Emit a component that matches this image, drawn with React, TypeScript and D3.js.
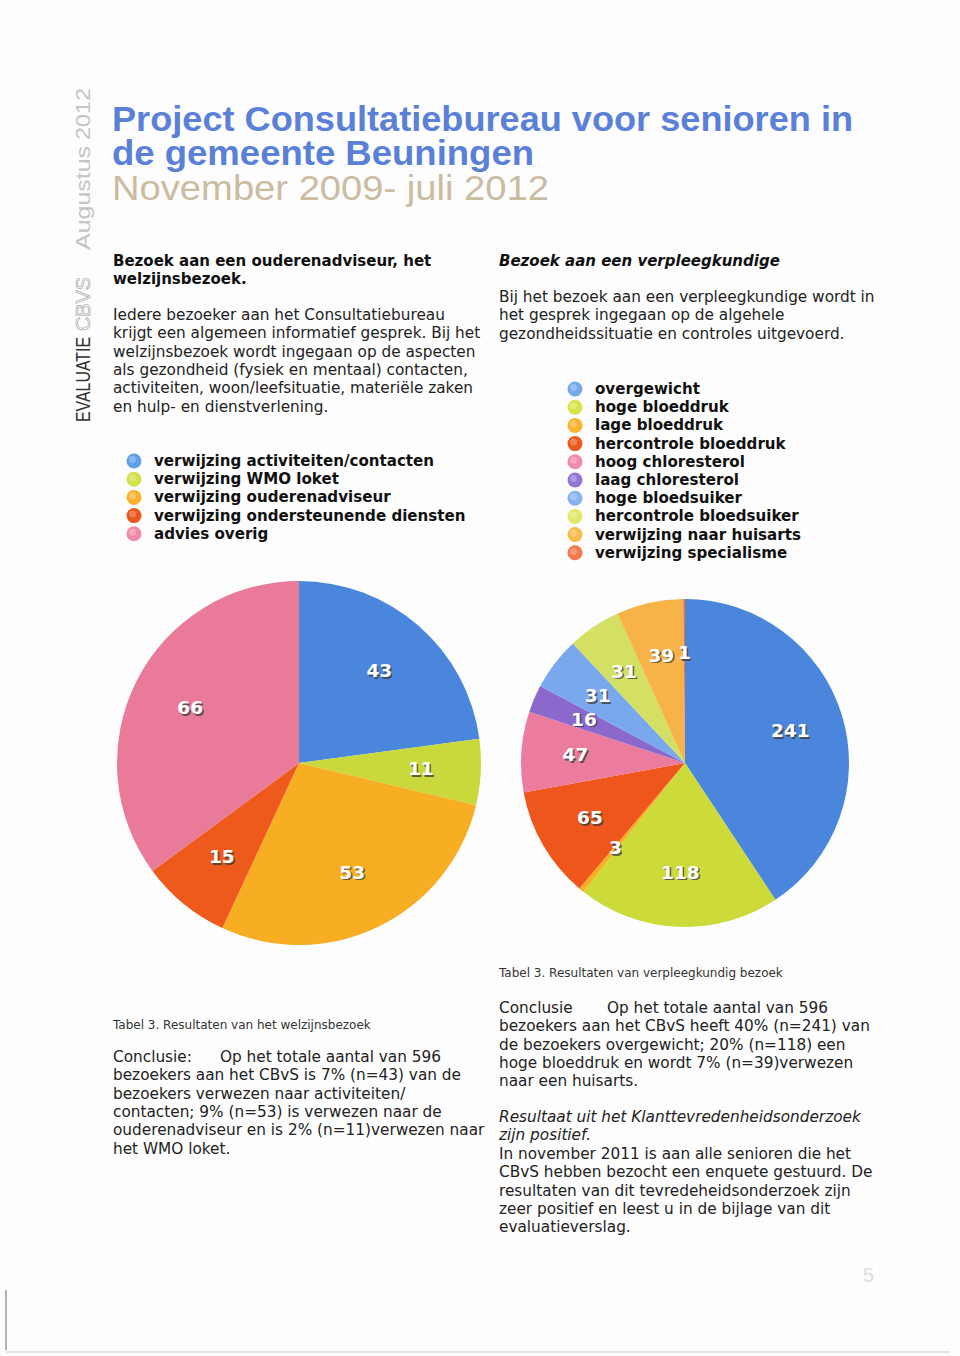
import * as d3 from "d3";

// left pie: welzijnsbezoek
const leftCategories = [
  "verwijzing activiteiten/contacten",
  "verwijzing WMO loket",
  "verwijzing ouderenadviseur",
  "verwijzing ondersteunende diensten",
  "advies overig",
];
const leftValues = [43, 11, 53, 15, 66];
const leftColors = ["#4a87dc", "#c9d93c", "#f8ae22", "#ee5a1c", "#e97a9a"];
const leftLegendColors = ["#62a0e6", "#d3e048", "#f8b22e", "#e9581e", "#ef8aa8"];

// right pie: verpleegkundig bezoek
const rightCategories = [
  "overgewicht",
  "hoge bloeddruk",
  "lage bloeddruk",
  "hercontrole bloeddruk",
  "hoog chloresterol",
  "laag chloresterol",
  "hoge bloedsuiker",
  "hercontrole bloedsuiker",
  "verwijzing naar huisarts",
  "verwijzing specialisme",
];
const rightValues = [241, 118, 3, 65, 47, 16, 31, 31, 39, 1];
const rightColors = [
  "#4a87dc", "#cddb3a", "#f8ae22", "#ef561c", "#ec7c9d",
  "#8a68cc", "#79a8ec", "#d4e063", "#f7b347", "#f0703a",
];
const rightLegendColors = [
  "#74aaea", "#d8e448", "#f8b42c", "#ea5a1f", "#f08aaa",
  "#9274d2", "#86b2f0", "#dfe86a", "#f9bb4e", "#f27a48",
];

const titleLines = ["Project Consultatiebureau voor senioren in", "de gemeente Beuningen"];
const subtitle = "November 2009- juli 2012";

const leftHeading = ["Bezoek aan een ouderenadviseur, het", "welzijnsbezoek."];
const leftIntro = [
  "Iedere bezoeker aan het Consultatiebureau",
  "krijgt een algemeen informatief gesprek. Bij het",
  "welzijnsbezoek wordt ingegaan op de aspecten",
  "als gezondheid (fysiek en mentaal) contacten,",
  "activiteiten, woon/leefsituatie, materiële zaken",
  "en hulp- en dienstverlening.",
];
const rightHeading = "Bezoek aan een verpleegkundige";
const rightIntro = [
  "Bij het bezoek aan een verpleegkundige wordt in",
  "het gesprek ingegaan op de algehele",
  "gezondheidssituatie en controles uitgevoerd.",
];
const leftCaption = "Tabel 3. Resultaten van het welzijnsbezoek";
const rightCaption = "Tabel 3. Resultaten van verpleegkundig bezoek";
const leftConclusion = [
  "bezoekers aan het CBvS is 7% (n=43) van de",
  "bezoekers verwezen naar activiteiten/",
  "contacten; 9% (n=53) is verwezen naar de",
  "ouderenadviseur en is 2% (n=11)verwezen naar",
  "het WMO loket.",
];
const rightConclusion = [
  "bezoekers aan het CBvS heeft 40% (n=241) van",
  "de bezoekers overgewicht; 20% (n=118) een",
  "hoge bloeddruk en wordt 7% (n=39)verwezen",
  "naar een huisarts.",
];
const surveyItalic = ["Resultaat uit het Klanttevredenheidsonderzoek", "zijn positief."];
const surveyText = [
  "In november 2011 is aan alle senioren die het",
  "CBvS hebben bezocht een enquete gestuurd. De",
  "resultaten van dit tevredeheidsonderzoek zijn",
  "zeer positief en leest u in de bijlage van dit",
  "evaluatieverslag.",
];

const W = 960;
const H = 1356;
const bodyFont = "'DejaVu Sans', Verdana, sans-serif";
const lh = 18.3;

const Pie = ({ values, colors, cx, cy, r }) => {
  const pie = d3.pie<number>().sort(null).value((d) => d);
  const arcs = pie(values);
  const arc = d3.arc<d3.PieArcDatum<number>>().innerRadius(0).outerRadius(r);
  const labelArc = d3
    .arc<d3.PieArcDatum<number>>()
    .innerRadius(r * 0.67)
    .outerRadius(r * 0.67);
  return (
    <g transform={`translate(${cx},${cy})`}>
      {arcs.map((a, i) => (
        <path key={i} d={arc(a) || ""} fill={colors[i]} />
      ))}
      {arcs.map((a, i) => {
        const [x, y] = labelArc.centroid(a);
        return (
          <g key={"l" + i} fontFamily={bodyFont} fontWeight="bold" fontSize={18.5} textAnchor="middle">
            <text x={x + 1.5} y={y + 7.5} fill="#3a3a3a" opacity={0.75}>
              {a.data}
            </text>
            <text x={x} y={y + 6} fill="#fff">
              {a.data}
            </text>
          </g>
        );
      })}
    </g>
  );
};

const Legend = ({ items, colors, x, y }) => (
  <g fontFamily={bodyFont} fontWeight="bold" fontSize={15.1} fill="#111">
    {items.map((d, i) => (
      <g key={d} transform={`translate(${x},${y + i * 18.2})`}>
        <circle r={7.5} fill={colors[i]} />
        <circle cx={-1.5} cy={-1.5} r={3.5} fill="#fff" opacity={0.25} />
        <text x={20} y={5}>
          {d}
        </text>
      </g>
    ))}
  </g>
);

const Lines = ({ lines, x, y, ...rest }) => (
  <text x={x} y={y} {...rest}>
    {lines.map((l, i) => (
      <tspan key={i} x={x} y={y + i * lh}>
        {l}
      </tspan>
    ))}
  </text>
);

export default function App() {
  return (
    <div style={{ position: "absolute", left: 0, top: 0, width: W, height: H, background: "#fff" }}>
      <svg width={W} height={H} viewBox={`0 0 ${W} ${H}`}>
        <rect width={W} height={H} fill="#fdfdfd" />
        <line x1={6} y1={1290} x2={6} y2={1350} stroke="#999" strokeWidth={1.5} />
        <line x1={6} y1={1352} x2={950} y2={1352} stroke="#ccc" strokeWidth={1} />

        {/* vertical side text */}
        <g transform="translate(90,422) rotate(-90)" fontFamily="'Liberation Sans', Arial, sans-serif" fontSize={20}>
          <text x={0} y={0} fill="#333" textLength={85} lengthAdjust="spacingAndGlyphs">EVALUATIE</text>
          <text x={91} y={0} fill="none" stroke="#999" strokeWidth={0.6} textLength={54} lengthAdjust="spacingAndGlyphs">CBVS</text>
          <text x={172} y={0} fill="#c4c4c4" fontSize={21} textLength={104} lengthAdjust="spacingAndGlyphs">Augustus</text>
          <text x={282} y={0} fill="#c4c4c4" fontSize={21} textLength={52} lengthAdjust="spacingAndGlyphs">2012</text>
        </g>

        {/* title */}
        <g fontFamily="'Liberation Sans', Arial, sans-serif" fontSize={35}>
          <text x={112} y={131} fill="#5a80d8" fontWeight="bold" textLength={741} lengthAdjust="spacingAndGlyphs">
            {titleLines[0]}
          </text>
          <text x={112} y={165} fill="#5a80d8" fontWeight="bold" textLength={422} lengthAdjust="spacingAndGlyphs">
            {titleLines[1]}
          </text>
          <text x={112} y={200} fill="#cbbba0" textLength={437} lengthAdjust="spacingAndGlyphs">
            {subtitle}
          </text>
        </g>

        <g fontFamily={bodyFont} fontSize={15.3} fill="#222">
          <Lines lines={leftHeading} x={113} y={266} fontWeight="bold" fontSize={15} fill="#111" />
          <Lines lines={leftIntro} x={113} y={320} />
          <text x={499} y={266} fontWeight="bold" fontStyle="italic" fontSize={15} fill="#111">
            {rightHeading}
          </text>
          <Lines lines={rightIntro} x={499} y={302} />

          <text x={113} y={1029} fontSize={12} fill="#333">{leftCaption}</text>
          <text x={499} y={977} fontSize={12} fill="#333">{rightCaption}</text>

          <text x={113} y={1062}>Conclusie:</text>
          <text x={220} y={1062}>Op het totale aantal van 596</text>
          <Lines lines={leftConclusion} x={113} y={1080.3} />

          <text x={499} y={1013}>Conclusie</text>
          <text x={607} y={1013}>Op het totale aantal van 596</text>
          <Lines lines={rightConclusion} x={499} y={1031.3} />

          <Lines lines={surveyItalic} x={499} y={1122} fontStyle="italic" />
          <Lines lines={surveyText} x={499} y={1159} />
        </g>

        <Legend items={leftCategories} colors={leftLegendColors} x={134} y={461} />
        <Legend items={rightCategories} colors={rightLegendColors} x={575} y={389} />

        <Pie values={leftValues} colors={leftColors} cx={299} cy={763} r={182} />
        <Pie values={rightValues} colors={rightColors} cx={685} cy={763} r={164} />

        <text x={863} y={1282} fontFamily="'Liberation Sans', Arial, sans-serif" fontSize={20} fill="#ddd">
          5
        </text>
      </svg>
    </div>
  );
}
